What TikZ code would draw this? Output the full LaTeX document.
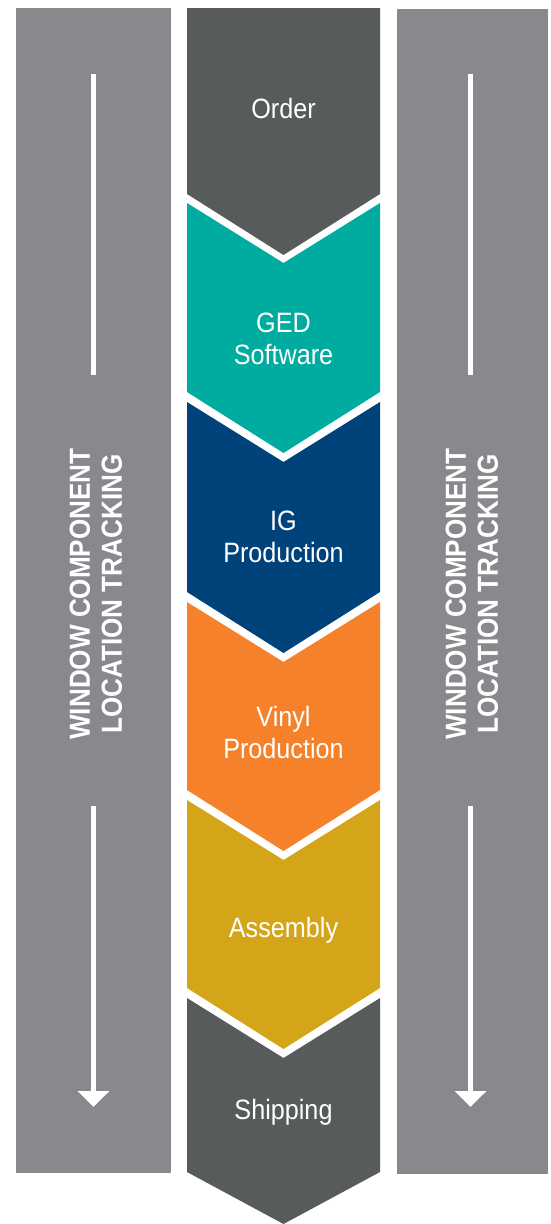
\documentclass[tikz,border=0pt]{standalone}
\usepackage{fontspec}
\setmainfont{Liberation Sans}[FakeStretch=0.9]
\usetikzlibrary{positioning,arrows.meta}
\definecolor{bargray}{HTML}{87898D}
\definecolor{stagegray}{HTML}{585B5C}
\definecolor{gedteal}{HTML}{00AC9F}
\definecolor{ignavy}{HTML}{00427A}
\definecolor{vinylorange}{HTML}{F5812A}
\definecolor{assemblygold}{HTML}{D4A519}
\tikzset{
  stagetext/.style={text=white, align=center, font=\fontsize{28}{32}\selectfont},
  sidetext/.style={text=white, align=center, rotate=90, font=\bfseries\fontsize{29}{32}\selectfont},
  trackline/.style={draw=white, line width=5pt}
}
% one chevron: colour, top of sides, bottom of sides
\newcommand{\stagechev}[3]{\fill[#1] (187,#2) -- (283.5,#2+60) -- (380,#2) -- (380,#3) -- (283.5,#3+61) -- (187,#3) -- cycle;}

\begin{document}
\begin{tikzpicture}[x=1pt,y=-1pt]
\useasboundingbox (0,0) rectangle (551,1224);
\clip (0,0) rectangle (551,1224);
% side bars
\fill[bargray] (16,8) rectangle (171,1173);
\fill[bargray] (397,9) rectangle (548,1174);
% chevrons
\fill[stagegray] (187,8) -- (380,8) -- (380,194) -- (283.5,255) -- (187,194) -- cycle;
\stagechev{gedteal}{203}{392}
\stagechev{ignavy}{402}{592}
\stagechev{vinylorange}{602}{790}
\stagechev{assemblygold}{800}{988}
\fill[stagegray] (187,998) -- (283.5,1058) -- (380,998) -- (380,1172) -- (283.5,1224) -- (187,1172) -- cycle;
% labels
\node[stagetext] (order) at (283.5,108) {Order};
\node[stagetext] (ged) at (283.5,339) {GED\\Software};
\node[stagetext] (ig) at (283.5,537) {IG\\Production};
\node[stagetext] (vinyl) at (283.5,732) {Vinyl\\Production};
\node[stagetext] (assembly) at (283.5,930) {Assembly};
\node[stagetext] (shipping) at (283.5,1112) {Shipping};
\node[sidetext] (lefttrack) at (96,594) {WINDOW COMPONENT\\LOCATION TRACKING};
\node[sidetext] (righttrack) at (472,594) {WINDOW COMPONENT\\LOCATION TRACKING};
% tracking arrows
\coordinate (ltop) at (93.5,74);
\coordinate (lmid) at (93.5,375);
\coordinate (lbot) at (93.5,806);
\coordinate (lend) at (93.5,1107);
\coordinate (rtop) at (470.5,74);
\coordinate (rmid) at (470.5,375);
\coordinate (rbot) at (470.5,806);
\coordinate (rend) at (470.5,1107);
\draw[trackline] (ltop) -- (lmid);
\draw[trackline, -{Triangle[width=31pt,length=16pt]}] (lbot) -- (lend);
\draw[trackline] (rtop) -- (rmid);
\draw[trackline, -{Triangle[width=31pt,length=16pt]}] (rbot) -- (rend);
\end{tikzpicture}
\end{document}
